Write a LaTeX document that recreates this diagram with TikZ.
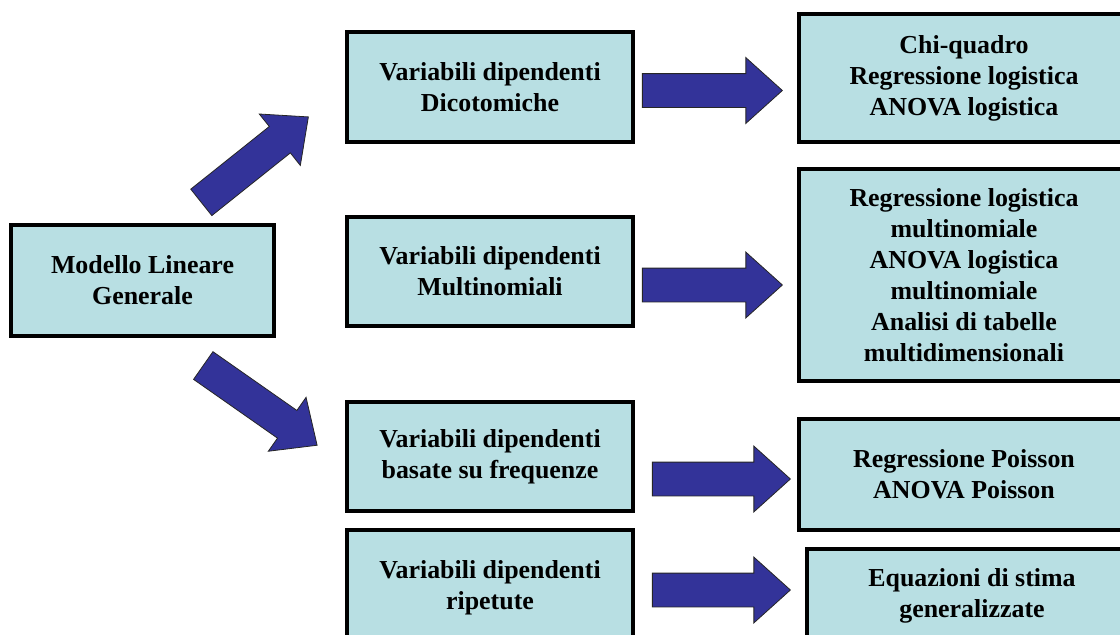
\documentclass[tikz,border=0pt]{standalone}
\usepackage{fontspec}
\setmainfont{Liberation Serif}
\definecolor{boxcyan}{RGB}{184, 223, 227}
\definecolor{arrowblue}{RGB}{51, 51, 153}
\usetikzlibrary{shapes.arrows, positioning}

\begin{document}
\begin{tikzpicture}[
  x=1pt, y=-1pt,
  mbox/.style={draw, line width=4pt, fill=boxcyan, align=center, inner sep=0pt, font=\fontsize{25.9}{31}\selectfont\bfseries},
  dbox/.style={mbox, minimum width=286pt, minimum height=109pt},
  rbox/.style={mbox, minimum width=330pt},
  fatarrow/.style={single arrow, draw=black!85, line width=0.8pt, fill=arrowblue, minimum height=#1, minimum width=65pt, single arrow head extend=16pt, single arrow tip angle=84, inner xsep=0pt, inner ysep=16.5pt}
]
  \path[use as bounding box, clip] (0,0) rectangle (1120,635);

  \node[mbox, minimum width=263pt, minimum height=111pt] (glm) at (142.5,280.5) {Modello Lineare\\Generale};

  \node[dbox, minimum height=110pt] (dic) at (490,87) {Variabili dipendenti\\Dicotomiche};
  \node[dbox] (mul) at (490,271.5) {Variabili dipendenti\\Multinomiali};
  \node[dbox] (fre) at (490,456.5) {Variabili dipendenti\\basate su frequenze};
  \node[dbox, minimum height=116pt] (rip) at (490,588) {Variabili dipendenti\\ripetute};

  \node[rbox, minimum height=128pt] (chi) at (964,78) {Chi-quadro\\Regressione logistica\\ANOVA logistica};
  \node[rbox, minimum height=212pt] (log) at (964,275) {Regressione logistica\\multinomiale\\ANOVA logistica\\multinomiale\\Analisi di tabelle\\multidimensionali};
  \node[rbox, minimum height=111pt] (poi) at (964,474.5) {Regressione Poisson\\ANOVA Poisson};
  \node[rbox, minimum height=94pt] (gee) at (972,596) {Equazioni di stima\\generalizzate};

  \node[fatarrow=137pt, rotate=38.6] (up) at (247.5,165.5) {};
  \node[fatarrow=139pt, rotate=-35] (down) at (252.5,400) {};
  \node[fatarrow=140pt] (a1) at (703,90.5) {};
  \node[fatarrow=140pt] (a2) at (703,285) {};
  \node[fatarrow=138pt] (a3) at (712,479) {};
  \node[fatarrow=138pt] (a4) at (712,590) {};
\end{tikzpicture}
\end{document}
